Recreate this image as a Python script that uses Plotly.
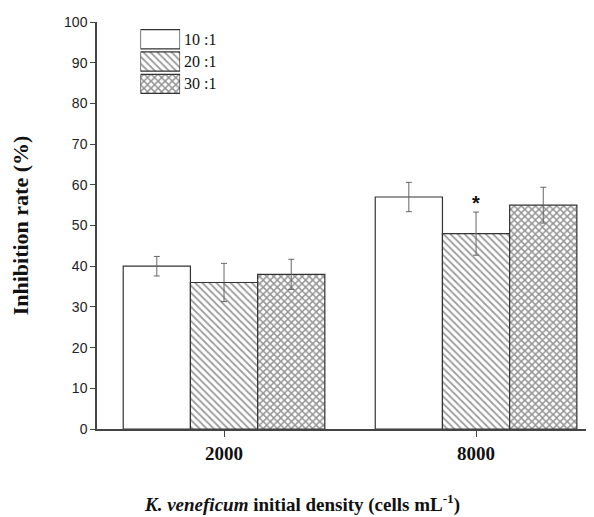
import plotly.graph_objects as go

categories = ["2000", "8000"]
series_names = ["10 :1", "20 :1", "30 :1"]
values = {
    "10 :1": [40.0, 57.0],
    "20 :1": [36.0, 48.0],
    "30 :1": [38.0, 55.0],
}
errors = {
    "10 :1": [2.4, 3.6],
    "20 :1": [4.7, 5.3],
    "30 :1": [3.7, 4.4],
}
significance = {"20 :1": ["", "*"]}
y_ticks = list(range(0, 101, 10))
x_title = "<b><i>K. veneficum</i> initial density (cells mL<sup>-1</sup>)</b>"

patterns = {"10 :1": "", "20 :1": "\\", "30 :1": "x"}
pattern_fg = {"10 :1": "#333333", "20 :1": "#3a3a3a", "30 :1": "#2a2a2a"}
pattern_sol = {"10 :1": 0.3, "20 :1": 0.36, "30 :1": 0.5}
SERIF = "Liberation Serif"
SANS = "Liberation Sans"

fig = go.Figure()
for i, name in enumerate(series_names):
    fig.add_trace(go.Bar(
        x=categories, y=values[name], name=name, offsetgroup=str(i),
        marker=dict(color="white", line=dict(color="#333333", width=1.2),
                    pattern=dict(shape=patterns[name], fgcolor=pattern_fg[name],
                                 bgcolor="white", size=5, solidity=pattern_sol[name])),
        error_y=dict(type="data", array=errors[name], color="#666666",
                     thickness=1, width=3),
        showlegend=False,
    ))

# legend drawn as an inset with the same patterned bars
for i, name in enumerate(series_names):
    fig.add_trace(go.Bar(
        x=[1], y=[name], orientation="h", xaxis="x2", yaxis="y2",
        marker=dict(color="white", line=dict(color="#333333", width=1.3),
                    pattern=dict(shape=patterns[name], fgcolor=pattern_fg[name],
                                 bgcolor="white", size=5, solidity=pattern_sol[name])),
        showlegend=False, hoverinfo="skip",
    ))

# significance marks
for s, marks in significance.items():
    for j, m in enumerate(marks):
        if m:
            fig.add_annotation(
                x=j, y=values[s][j] + errors[s][j], text="<b>" + m + "</b>",
                showarrow=False, yanchor="bottom", yshift=-4,
                font=dict(family=SANS, size=20, color="#111"),
                xref="x", yref="y")

# x-axis title (placed as annotation to match its off-centre position)
fig.add_annotation(
    x=0.4125, y=-0.182, xref="paper", yref="paper", text=x_title,
    showarrow=False, xanchor="center", yanchor="middle",
    font=dict(family=SERIF, size=19, color="#111"))

fig.update_layout(
    width=586, height=509,
    margin=dict(l=89, r=0, t=14, b=88),
    paper_bgcolor="white", plot_bgcolor="white",
    barmode="group", bargap=0.2, bargroupgap=0,
    xaxis=dict(
        type="category", range=[-0.504, 1.468],
        showline=True, linecolor="#444", linewidth=1.5,
        ticks="outside", ticklen=6, tickcolor="#444",
        tickvals=categories, ticktext=["<b>" + c + "</b>" for c in categories],
        tickfont=dict(family=SERIF, size=19, color="#111"),
        showgrid=False, zeroline=False,
    ),
    yaxis=dict(
        range=[0, 100], tickvals=y_ticks,
        showline=True, linecolor="#444", linewidth=1.5,
        ticks="outside", ticklen=5, tickcolor="#444",
        tickfont=dict(family=SANS, size=14, color="#222"),
        showgrid=False, zeroline=False,
        title=dict(text="<b>Inhibition rate (%)</b>",
                   font=dict(family=SERIF, size=22, color="#111"), standoff=30),
    ),
    xaxis2=dict(domain=[0.0874, 0.1672], anchor="y2", range=[0, 1],
                visible=False, fixedrange=True),
    yaxis2=dict(domain=[0.8206, 0.985], anchor="x2", side="right",
                categoryorder="array", categoryarray=series_names[::-1],
                showline=False, showgrid=False, zeroline=False, ticks="",
                ticklabelstandoff=3,
                tickfont=dict(family=SERIF, size=16, color="#111"),
                fixedrange=True),
)
fig.update_traces(selector=dict(xaxis="x2"), width=0.86)

fig.write_html("out.html")
